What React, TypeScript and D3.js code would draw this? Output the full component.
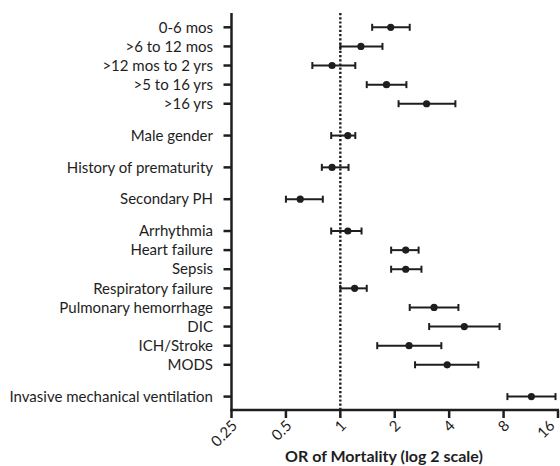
import { useRef, useEffect } from "react";
import * as d3 from "d3";

// groups of rows, a gap is drawn between groups
const GROUPS: string[][] = [
  ["0-6 mos", ">6 to 12 mos", ">12 mos to 2 yrs", ">5 to 16 yrs", ">16 yrs"],
  ["Male gender"],
  ["History of prematurity"],
  ["Secondary PH"],
  ["Arrhythmia", "Heart failure", "Sepsis", "Respiratory failure", "Pulmonary hemorrhage", "DIC", "ICH/Stroke", "MODS"],
  ["Invasive mechanical ventilation"],
];

const OR = [1.9, 1.3, 0.9, 1.8, 3.0, 1.1, 0.9, 0.6, 1.1, 2.3, 2.3, 1.2, 3.3, 4.85, 2.4, 3.9, 11.4];
const LOW = [1.5, 1.0, 0.7, 1.4, 2.1, 0.89, 0.79, 0.5, 0.89, 1.91, 1.91, 1.0, 2.42, 3.1, 1.6, 2.59, 8.4];
const HIGH = [2.42, 1.71, 1.21, 2.32, 4.33, 1.21, 1.11, 0.8, 1.31, 2.71, 2.81, 1.4, 4.5, 7.6, 3.62, 5.8, 15.5];

const X_TICKS = [0.25, 0.5, 1, 2, 4, 8, 16];
const X_TICK_LABELS = ["0.25", "0.5", "1", "2", "4", "8", "16"];

const FONT = "Lato, 'Open Sans', sans-serif";
const INK = "#1e1e1e";

export default function App() {
  const svgRef = useRef<SVGSVGElement>(null);

  useEffect(() => {
    document.body.style.margin = "0";
    const W = 560;
    const H = 466;
    const svg = d3.select(svgRef.current).attr("width", W).attr("height", H);
    svg.selectAll("*").remove();

    // slot positions: 1 unit per row, bigger step between groups
    const GAP = 1.665;
    const rows: { label: string; slot: number }[] = [];
    let s = 0;
    GROUPS.forEach((g, gi) => {
      if (gi > 0) s += GAP - 1;
      g.forEach((label) => {
        rows.push({ label, slot: s });
        s += 1;
      });
    });
    const lastSlot = rows[rows.length - 1].slot;

    const x = d3.scaleLog().base(2).domain([0.25, 16]).range([231.5, 558]);
    const y = d3.scaleLinear().domain([0, lastSlot]).range([27.3, 396.6]);

    const axisX = 231.5;
    const axisY = 410;
    const top = 13;

    // reference line at OR = 1
    svg.append("line")
      .attr("x1", x(1)).attr("x2", x(1))
      .attr("y1", top).attr("y2", axisY)
      .attr("stroke", INK).attr("stroke-width", 2.4)
      .attr("stroke-dasharray", "2.2,2");

    // y axis
    svg.append("line")
      .attr("x1", axisX).attr("x2", axisX)
      .attr("y1", top).attr("y2", axisY + 1.25)
      .attr("stroke", INK).attr("stroke-width", 2.5);

    rows.forEach((r) => {
      const yy = y(r.slot);
      svg.append("line")
        .attr("x1", axisX - 8).attr("x2", axisX)
        .attr("y1", yy).attr("y2", yy)
        .attr("stroke", INK).attr("stroke-width", 2.5);
      svg.append("text")
        .attr("x", axisX - 18.5).attr("y", yy)
        .attr("dy", "0.35em")
        .attr("text-anchor", "end")
        .attr("font-family", FONT).attr("font-size", 15)
        .attr("fill", INK)
        .text(r.label);
    });

    // x axis
    svg.append("line")
      .attr("x1", axisX - 1.25).attr("x2", 559)
      .attr("y1", axisY).attr("y2", axisY)
      .attr("stroke", INK).attr("stroke-width", 2.5);

    X_TICKS.forEach((t, i) => {
      const xx = Math.min(x(t), 558.5);
      svg.append("line")
        .attr("x1", xx).attr("x2", xx)
        .attr("y1", axisY).attr("y2", axisY + 8)
        .attr("stroke", INK).attr("stroke-width", 2.5);
      const tx = i === X_TICKS.length - 1 ? xx - 6 : xx + 3;
      svg.append("text")
        .attr("transform", `translate(${tx},${axisY + 13}) rotate(-45)`)
        .attr("text-anchor", "end")
        .attr("dy", "0.35em")
        .attr("font-family", FONT).attr("font-size", 15)
        .attr("fill", INK)
        .text(X_TICK_LABELS[i]);
    });

    svg.append("text")
      .attr("x", 384).attr("y", 462)
      .attr("text-anchor", "middle")
      .attr("font-family", FONT).attr("font-size", 16).attr("font-weight", 700)
      .attr("fill", INK)
      .text("OR of Mortality (log 2 scale)");

    // error bars
    const g = svg.append("g");
    rows.forEach((r, i) => {
      const yy = y(r.slot);
      const x0 = x(LOW[i]);
      const x1 = x(HIGH[i]);
      g.append("line")
        .attr("x1", x0).attr("x2", x1).attr("y1", yy).attr("y2", yy)
        .attr("stroke", INK).attr("stroke-width", 2);
      [x0, x1].forEach((cx) => {
        g.append("line")
          .attr("x1", cx).attr("x2", cx).attr("y1", yy - 3.5).attr("y2", yy + 3.5)
          .attr("stroke", INK).attr("stroke-width", 2);
      });
      g.append("circle")
        .attr("cx", x(OR[i])).attr("cy", yy).attr("r", 3.6)
        .attr("fill", INK);
    });
  }, []);

  return <svg ref={svgRef} style={{ display: "block" }} />;
}
